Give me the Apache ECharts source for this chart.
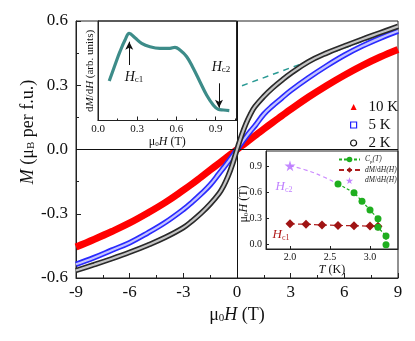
<!DOCTYPE html>
<html><head><meta charset="utf-8">
<script src="https://cdn.jsdelivr.net/npm/echarts@6/dist/echarts.min.js"></script>
<style>html,body{margin:0;padding:0;background:#fff}#c{width:415px;height:341px}</style>
</head><body><div id="c"></div>
<script>
// ---- main panel: M(H) at three temperatures ----
const fieldH = [-9,-8,-7,-6,-5,-4,-3,-2.5,-2,-1.5,-1,-0.75,-0.5,-0.25,0,0.25,0.5,0.75,1,1.5,2,2.5,3,4,5,6,7,8,9];
const m10K = [-0.455,-0.42,-0.383,-0.343,-0.297,-0.247,-0.19,-0.16,-0.128,-0.096,-0.064,-0.048,-0.032,-0.016,0,0.016,0.032,0.048,0.064,0.096,0.127,0.157,0.187,0.245,0.298,0.347,0.392,0.432,0.467];
const m5K = [-0.536,-0.505,-0.47,-0.435,-0.39,-0.34,-0.28,-0.245,-0.207,-0.165,-0.112,-0.085,-0.058,-0.03,0,0.03,0.058,0.085,0.11,0.165,0.205,0.24,0.275,0.335,0.39,0.44,0.483,0.52,0.553];
const m2K = [-0.565,-0.538,-0.51,-0.48,-0.447,-0.41,-0.365,-0.333,-0.297,-0.255,-0.205,-0.17,-0.125,-0.068,0,0.065,0.12,0.165,0.2,0.248,0.288,0.323,0.355,0.41,0.45,0.483,0.515,0.545,0.575];
const fitH = [0.28, 9];
const fitM = [0.298, 0.566];
const mainXTicks = [-9,-6,-3,0,3,6,9];
const mainYTicks = [-0.6,-0.3,0.0,0.3,0.6];
const legendNames = ['10 K','5 K','2 K'];

// ---- inset 1: dM/dH vs field ----
const insetH = [0.086,0.130,0.168,0.207,0.239,0.283,0.334,0.398,0.474,0.551,0.589,0.627,0.679,0.729,0.780,0.831,0.882,0.920,0.959,1.005];
const insetDMdH = [39.5,55.5,68.8,80.5,87.2,82.8,77.2,73.8,72.2,72.2,73.2,70.5,63.8,52.2,38.8,25.5,15.5,11.2,10.5,9.8];
const insetXTicks = [0.0,0.3,0.6,0.9];
const hc1Arrow = {h:0.239, from:55.5, to:78.8};
const hc2Arrow = {h:0.926, from:37.2, to:12.8};

// ---- inset 2: phase diagram ----
const cpT = [2.6,2.8,2.9,3.0,3.1,3.1,3.2,3.2];
const cpH = [0.70,0.60,0.50,0.40,0.30,0.20,0.10,0.00];
const hc1T = [2.0,2.2,2.4,2.6,2.8,3.0,3.1];
const hc1H = [0.24,0.235,0.228,0.222,0.218,0.214,0.212];
const hc2T = [2.0];
const hc2H = [0.91];
const hc2GuideT = [2.0,2.2,2.4,2.6];
const hc2GuideH = [0.91,0.86,0.79,0.70];
const phaseXTicks = [2.0,2.5,3.0];
const phaseYTicks = [0.0,0.3,0.6,0.9];

const pairs = (xs, ys) => xs.map((x,i)=>[x, ys[i]]);
const FF = 'Liberation Serif, Times New Roman, serif';
const INK = '#111';
const STAR = 'path://M50,0 L61,35 L98,35 L68,57 L79,91 L50,70 L21,91 L32,57 L2,35 L39,35 Z';

function richSet(size, color){
  return {
    n:{fontSize:size, fontFamily:FF, color:color},
    i:{fontSize:size, fontFamily:FF, fontStyle:'italic', color:color},
    s:{fontSize:Math.round(size*0.62), fontFamily:FF, color:color, verticalAlign:'bottom'}
  };
}
function zRich(size, color){
  const r = richSet(size,color);
  Object.values(r).forEach(o=>{o.fill=o.color;});
  return r;
}
const axisBase = (idx, extra) => Object.assign({
  gridIndex: idx, type:'value',
  axisLine:{show:true, onZero:false, lineStyle:{color:'#222', width:1}},
  splitLine:{show:false},
}, extra);

const chart = echarts.init(document.getElementById('c'), null, {renderer:'canvas'});
const option = {
  animation:false,
  backgroundColor:'#fff',
  grid:[
    {left:76, top:21, right:17, bottom:63, show:true, borderColor:'#222', borderWidth:1, outerBoundsMode:'none'},
    {left:98, top:21, width:138.5, height:99.5, show:true, borderColor:'#222', borderWidth:1, outerBoundsMode:'none'},
    {left:266, top:151, right:17, bottom:92, show:true, borderColor:'#222', borderWidth:1, outerBoundsMode:'none'}
  ],
  xAxis:[
    axisBase(0,{min:-9, max:9, interval:3,
      axisTick:{inside:true, length:5, lineStyle:{color:'#222'}},
      minorTick:{show:true, splitNumber:2, length:3, lineStyle:{color:'#222'}},
      axisLabel:{fontSize:17, fontFamily:FF, color:INK, margin:6, formatter:v=>String(v)},
      name:'{n|μ}{s|0}{i|H}{n| (T)}', nameLocation:'middle', nameGap:24,
      nameTextStyle:{rich:richSet(18,INK)}}),
    axisBase(1,{min:0, max:1.06, interval:0.3,
      axisTick:{inside:true, length:4, lineStyle:{color:'#222'}},
      minorTick:{show:true, splitNumber:2, length:2, lineStyle:{color:'#222'}},
      axisLabel:{fontSize:11, fontFamily:FF, color:INK, margin:3, formatter:v=>v.toFixed(1), showMaxLabel:false},
      name:'{n|μ}{s|0}{i|H}{n| (T)}', nameLocation:'middle', nameGap:14,
      nameTextStyle:{rich:richSet(12,INK)}}),
    axisBase(2,{min:1.7, max:3.35,
      axisTick:{inside:true, length:3, customValues:phaseXTicks, lineStyle:{color:'#222'}},
      axisLabel:{fontSize:10, fontFamily:FF, color:INK, margin:3, customValues:phaseXTicks, formatter:v=>v.toFixed(1)},
      name:'{i|T}{n| (K)}', nameLocation:'middle', nameGap:15,
      nameTextStyle:{rich:richSet(12,INK)}})
  ],
  yAxis:[
    axisBase(0,{min:-0.6, max:0.6, interval:0.3,
      axisTick:{inside:true, length:5, lineStyle:{color:'#222'}},
      minorTick:{show:true, splitNumber:2, length:3, lineStyle:{color:'#222'}},
      axisLabel:{fontSize:17, fontFamily:FF, color:INK, margin:8, formatter:v=>v.toFixed(1)}}),
    axisBase(1,{min:0, max:99.5, axisTick:{show:false}, axisLabel:{show:false}}),
    axisBase(2,{min:-0.05, max:1.08,
      axisTick:{inside:true, length:3, customValues:phaseYTicks, lineStyle:{color:'#222'}},
      axisLabel:{fontSize:10, fontFamily:FF, color:INK, margin:4, customValues:phaseYTicks, formatter:v=>v.toFixed(1)}})
  ],
  legend:[
    {
      data:[
        {name:legendNames[0], icon:'triangle', itemStyle:{color:'#ff0000', borderWidth:0}},
        {name:legendNames[1], icon:'rect', itemStyle:{color:'#fff', borderColor:'#2020ff', borderWidth:1.2}},
        {name:legendNames[2], icon:'circle', itemStyle:{color:'#fff', borderColor:'#111', borderWidth:1.2}}
      ],
      orient:'vertical', left:345, top:94, itemWidth:6, itemHeight:6, itemGap:2,
      selectedMode:false,
      textStyle:{fontSize:15, fontFamily:FF, color:INK, lineHeight:16, padding:[0,0,0,7]}
    },
    {
      data:['Cp','Hc1s','Hc2s'],
      orient:'vertical', left:333, top:150, itemWidth:21, itemHeight:7, itemGap:1.5,
      selectedMode:false,
      formatter: n => n==='Cp' ? '{i|C}{s|p}{i|(T)}' : '{i|dM}{n|/d}{i|H(H)}',
      textStyle:{fontSize:7.5, fontFamily:FF, color:'#222', lineHeight:9, rich:{
        n:{fontSize:7.5, fontFamily:FF, color:'#222'},
        i:{fontSize:7.5, fontFamily:FF, fontStyle:'italic', color:'#222'},
        s:{fontSize:5, fontFamily:FF, color:'#222', verticalAlign:'bottom'}}}
    }
  ],
  series:[
    {name:'10 K', type:'line', xAxisIndex:0, yAxisIndex:0, data:pairs(fieldH,m10K), smooth:0.4,
      showSymbol:false, symbol:'triangle', itemStyle:{color:'#ff0000'}, lineStyle:{color:'#ff0000', width:7}, z:3,
      markLine:{silent:true, symbol:'none', label:{show:false}, animation:false,
        lineStyle:{color:'#111', width:1, type:'solid'}, data:[{xAxis:0},{yAxis:0}]}},
    {name:'5 K', type:'line', xAxisIndex:0, yAxisIndex:0, data:pairs(fieldH,m5K), smooth:0.4,
      showSymbol:false, itemStyle:{color:'#2020ff'}, lineStyle:{color:'#2a2aff', width:5.5}, z:4},
    {name:'5 K core', type:'line', xAxisIndex:0, yAxisIndex:0, data:pairs(fieldH,m5K), smooth:0.4,
      showSymbol:false, lineStyle:{color:'#c4c4ff', width:2.2}, z:4},
    {name:'fit', type:'line', xAxisIndex:0, yAxisIndex:0, data:pairs(fitH,fitM),
      showSymbol:false, lineStyle:{color:'#2a9a94', width:1.5, type:[6,5]}, z:2},
    {name:'2 K', type:'line', xAxisIndex:0, yAxisIndex:0, data:pairs(fieldH,m2K), smooth:0.4,
      showSymbol:false, itemStyle:{color:'#222'}, lineStyle:{color:'#2a2a2a', width:5.5}, z:5},
    {name:'2 K core', type:'line', xAxisIndex:0, yAxisIndex:0, data:pairs(fieldH,m2K), smooth:0.4,
      showSymbol:false, lineStyle:{color:'#c4c4c4', width:2.2}, z:5},
    {name:'dMdH', type:'line', xAxisIndex:1, yAxisIndex:1, data:pairs(insetH,insetDMdH), smooth:0.4,
      showSymbol:false, lineStyle:{color:'#3d8c89', width:3.2}, z:3,
      markLine:{silent:true, symbol:['none','arrow'], symbolSize:[6,8], label:{show:false}, animation:false,
        lineStyle:{color:'#111', width:1, type:'solid'},
        data:[
          [{coord:[hc1Arrow.h,hc1Arrow.from]},{coord:[hc1Arrow.h,hc1Arrow.to]}],
          [{coord:[hc2Arrow.h,hc2Arrow.from]},{coord:[hc2Arrow.h,hc2Arrow.to]}]
        ]}},
    {name:'guide', type:'line', xAxisIndex:2, yAxisIndex:2, data:pairs(hc2GuideT,hc2GuideH), smooth:true,
      showSymbol:false, lineStyle:{color:'#cc8cff', width:1.2, type:[4,3]}, z:2},
    {name:'Hc1s', type:'line', xAxisIndex:2, yAxisIndex:2, data:pairs(hc1T,hc1H),
      symbol:'diamond', symbolSize:9, itemStyle:{color:'#a01414'}, lineStyle:{color:'#b02020', width:1.2, type:[5,3]}, z:3},
    {name:'Cp', type:'line', xAxisIndex:2, yAxisIndex:2, data:pairs(cpT,cpH),
      symbol:'circle', symbolSize:7, itemStyle:{color:'#1fae1f'}, lineStyle:{color:'#1fae1f', width:1.2, type:[3,2]}, z:4},
    {name:'Hc2s', type:'scatter', xAxisIndex:2, yAxisIndex:2, data:pairs(hc2T,hc2H),
      symbol:STAR, symbolSize:11, itemStyle:{color:'#b46cff'}, z:5}
  ],
  graphic:[
    {type:'text', x:28, y:132, rotation:Math.PI/2, silent:true,
      style:{text:'{i|M}{n| (μ}{s|B}{n| per f.u.)}', rich:zRich(18,INK), align:'center', verticalAlign:'middle'}},
    {type:'text', x:90, y:71, rotation:Math.PI/2, silent:true,
      style:{text:'{n|d}{i|M}{n|/d}{i|H}{n| (arb. units)}', rich:zRich(11,INK), align:'center', verticalAlign:'middle'}},
    {type:'text', x:244, y:204, rotation:Math.PI/2, silent:true,
      style:{text:'{n|μ}{s|0}{i|H}{n| (T)}', rich:zRich(12,INK), align:'center', verticalAlign:'middle'}},
    {type:'text', x:134, y:77, silent:true,
      style:{text:'{i|H}{s|c1}', rich:zRich(14,INK), align:'center', verticalAlign:'middle'}},
    {type:'text', x:221, y:67, silent:true,
      style:{text:'{i|H}{s|c2}', rich:zRich(14,INK), align:'center', verticalAlign:'middle'}},
    {type:'text', x:284, y:187, silent:true,
      style:{text:'{i|H}{s|c2}', rich:zRich(13,'#c080ff'), align:'center', verticalAlign:'middle'}},
    {type:'text', x:281, y:235, silent:true,
      style:{text:'{i|H}{s|c1}', rich:zRich(13,'#b01a1a'), align:'center', verticalAlign:'middle'}}
  ]
};
chart.setOption(option);
</script>
</body></html>
